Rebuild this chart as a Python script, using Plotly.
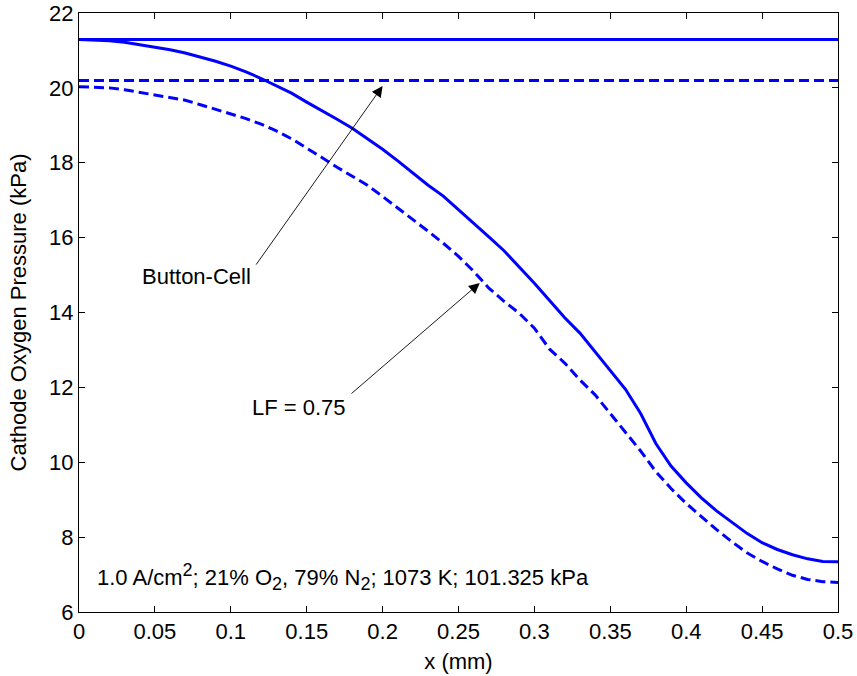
import plotly.graph_objects as go

x_mm = [0.00, 0.01, 0.02, 0.03, 0.04, 0.05, 0.06, 0.07, 0.08, 0.09,
        0.10, 0.11, 0.12, 0.13, 0.14, 0.15, 0.16, 0.17, 0.18, 0.19,
        0.20, 0.21, 0.22, 0.23, 0.24, 0.25, 0.26, 0.27, 0.28, 0.29,
        0.30, 0.31, 0.32, 0.33, 0.34, 0.35, 0.36, 0.37, 0.38, 0.39,
        0.40, 0.41, 0.42, 0.43, 0.44, 0.45, 0.46, 0.47, 0.48, 0.49, 0.50]

p_solid = [21.29, 21.28, 21.26, 21.22, 21.16, 21.09, 21.02, 20.93, 20.83, 20.71,
           20.58, 20.43, 20.25, 20.06, 19.86, 19.62, 19.40, 19.16, 18.92, 18.65,
           18.36, 18.05, 17.72, 17.40, 17.11, 16.75, 16.40, 16.02, 15.65, 15.22,
           14.78, 14.32, 13.86, 13.45, 12.95, 12.45, 11.95, 11.30, 10.50, 9.90,
           9.45, 9.05, 8.70, 8.40, 8.10, 7.85, 7.67, 7.53, 7.42, 7.35, 7.34]

p_dashed = [20.03, 20.02, 20.00, 19.95, 19.88, 19.82, 19.76, 19.67, 19.55, 19.43,
            19.32, 19.18, 19.03, 18.85, 18.64, 18.40, 18.14, 17.88, 17.64, 17.40,
            17.10, 16.78, 16.48, 16.17, 15.85, 15.50, 15.10, 14.65, 14.30, 13.98,
            13.58, 13.02, 12.65, 12.20, 11.80, 11.30, 10.80, 10.30, 9.75, 9.30,
            8.90, 8.55, 8.20, 7.88, 7.58, 7.35, 7.15, 6.98, 6.87, 6.81, 6.79]

button_cell_solid = 21.29
button_cell_dashed = 20.20

x_ticks = [0, 0.05, 0.1, 0.15, 0.2, 0.25, 0.3, 0.35, 0.4, 0.45, 0.5]
x_tick_labels = ["0", "0.05", "0.1", "0.15", "0.2", "0.25", "0.3", "0.35", "0.4", "0.45", "0.5"]
y_ticks = [6, 8, 10, 12, 14, 16, 18, 20, 22]

BLUE = "#0000FF"
FONT = "Liberation Sans, Arial, sans-serif"
FS = 22
DASH = "10px,5px"

fig = go.Figure()
fig.add_trace(go.Scatter(x=[x_mm[0], x_mm[-1]], y=[button_cell_solid, button_cell_solid],
                         mode="lines", line=dict(color=BLUE, width=3), showlegend=False))
fig.add_trace(go.Scatter(x=[x_mm[0], x_mm[-1]], y=[button_cell_dashed, button_cell_dashed],
                         mode="lines", line=dict(color=BLUE, width=3, dash=DASH), showlegend=False))
fig.add_trace(go.Scatter(x=x_mm, y=p_solid, mode="lines",
                         line=dict(color=BLUE, width=3), showlegend=False))
fig.add_trace(go.Scatter(x=x_mm, y=p_dashed, mode="lines",
                         line=dict(color=BLUE, width=3, dash=DASH), showlegend=False))

axis_common = dict(showline=True, linecolor="black", linewidth=1, mirror="allticks",
                   ticks="inside", ticklen=6, tickcolor="black", showgrid=False,
                   zeroline=False, automargin=False,
                   tickfont=dict(family=FONT, size=FS, color="black"))

fig.update_xaxes(range=[0, 0.5], tickvals=x_ticks, ticktext=x_tick_labels,
                 title=dict(text="x (mm)", font=dict(family=FONT, size=FS, color="black"), standoff=10),
                 **axis_common)
fig.update_yaxes(range=[6, 22], tickvals=y_ticks,
                 title=dict(text="Cathode Oxygen Pressure (kPa)", font=dict(family=FONT, size=FS, color="black"), standoff=16),
                 **axis_common)

# arrows
fig.add_annotation(x=0.2, y=20.05, ax=0.116, ay=15.24, xref="x", yref="y", axref="x", ayref="y",
                   text="", showarrow=True, arrowhead=2, arrowsize=2.4, arrowwidth=0.9, arrowcolor="black")
fig.add_annotation(x=0.264, y=14.79, ax=0.1785, ay=11.80, xref="x", yref="y", axref="x", ayref="y",
                   text="", showarrow=True, arrowhead=2, arrowsize=2.4, arrowwidth=0.9, arrowcolor="black")

fig.add_annotation(x=0.0777, y=14.95, xref="x", yref="y", text="Button-Cell", showarrow=False,
                   font=dict(family=FONT, size=FS, color="black"))
fig.add_annotation(x=0.145, y=11.46, xref="x", yref="y", text="LF = 0.75", showarrow=False,
                   font=dict(family=FONT, size=FS, color="black"))
fig.add_annotation(x=0.0105, y=6.94, xref="x", yref="y", xanchor="left",
                   text=("1.0 A/cm<sup><span style='font-size:18px'>2</span></sup>; 21% O"
                         "<sub><span style='font-size:18px'>2</span></sub>, 79% N"
                         "<sub><span style='font-size:18px'>2</span></sub>; 1073 K; 101.325 kPa"),
                   showarrow=False, font=dict(family=FONT, size=FS, color="black"))

fig.update_layout(width=857, height=676, margin=dict(l=79, r=19, t=13, b=64),
                  plot_bgcolor="white", paper_bgcolor="white")

fig.write_html("out.html")
